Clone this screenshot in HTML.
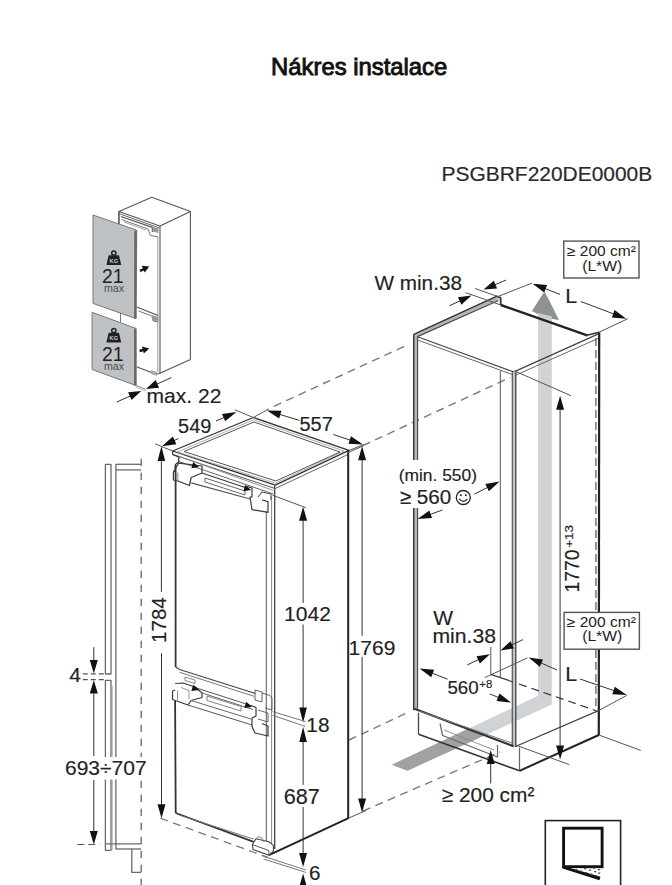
<!DOCTYPE html>
<html><head><meta charset="utf-8"><style>
html,body{margin:0;padding:0;background:#fff;}
body{width:672px;height:885px;overflow:hidden;}
svg{display:block;font-family:"Liberation Sans",sans-serif;}
</style></head><body>
<svg width="672" height="885" viewBox="0 0 672 885">
<text x="271.09" y="74.80" font-size="23.4" fill="#111" stroke="#111" stroke-width="0.9"  textLength="176.20" lengthAdjust="spacingAndGlyphs" >Nákres instalace</text>
<text x="441.52" y="180.50" font-size="21" fill="#2a2a2a" stroke="#2a2a2a" stroke-width="0.2"  textLength="210.74" lengthAdjust="spacingAndGlyphs" >PSGBRF220DE0000B</text>
<polygon points="118.90,211.50 151.80,197.30 190.40,211.50 160.00,226.00" fill="none" stroke="#555" stroke-width="1.1" stroke-linejoin="round" />
<line x1="190.40" y1="211.50" x2="190.40" y2="359.60" stroke="#555" stroke-width="1.1" />
<line x1="160.00" y1="226.00" x2="160.00" y2="373.90" stroke="#555" stroke-width="1.1" />
<line x1="157.80" y1="237.00" x2="157.80" y2="372.00" stroke="#999" stroke-width="1.0" />
<line x1="158.20" y1="373.90" x2="190.40" y2="359.60" stroke="#555" stroke-width="1.1" />
<line x1="118.90" y1="211.50" x2="118.90" y2="224.00" stroke="#555" stroke-width="1.6" />
<polyline points="118.90,213.50 121.50,214.50 159.50,228.00" fill="none" stroke="#666" stroke-width="1.0" stroke-linejoin="round" />
<polyline points="121.00,216.50 152.40,227.30 152.40,232.00" fill="none" stroke="#555" stroke-width="1.3" stroke-linejoin="round" />
<polyline points="121.50,219.50 148.00,229.00 150.50,235.50 158.00,236.80" fill="none" stroke="#777" stroke-width="1.0" stroke-linejoin="round" />
<polyline points="124.00,222.00 146.00,230.00" fill="none" stroke="#999" stroke-width="0.9" stroke-linejoin="round" />
<polygon points="152.50,226.80 158.50,228.50 158.50,233.00 152.50,231.50" fill="#999"/>
<polyline points="136.50,307.00 158.20,315.50" fill="none" stroke="#555" stroke-width="1.2" stroke-linejoin="round" />
<polyline points="138.60,311.00 152.00,316.00 153.00,321.00 158.20,322.00" fill="none" stroke="#777" stroke-width="1.0" stroke-linejoin="round" />
<polygon points="152.00,315.00 158.50,317.00 158.50,322.00 152.00,320.00" fill="#999"/>
<line x1="120.50" y1="312.00" x2="120.50" y2="322.00" stroke="#777" stroke-width="1.0" />
<polyline points="137.00,367.00 152.90,373.00 158.20,374.00" fill="none" stroke="#555" stroke-width="1.2" stroke-linejoin="round" />
<polygon points="151.00,370.00 157.00,372.00 157.00,376.00 151.00,374.00" fill="#aaa"/>
<polygon points="93.00,215.00 136.80,230.20 135.90,318.60 93.00,303.40" fill="#bfc2c4" stroke="#777" stroke-width="1.0" stroke-linejoin="round" />
<line x1="135.50" y1="230.50" x2="135.30" y2="318.40" stroke="#666" stroke-width="2.4" />
<polygon points="92.10,312.30 135.90,328.40 135.90,385.50 92.10,369.50" fill="#bfc2c4" stroke="#777" stroke-width="1.0" stroke-linejoin="round" />
<line x1="135.30" y1="328.60" x2="135.30" y2="385.30" stroke="#666" stroke-width="2.4" />
<circle cx="113.8" cy="253.10000000000002" r="2.1" fill="none" stroke="#222" stroke-width="1.5"/>
<polygon points="108.6,255.3 119.0,255.3 121.2,265.0 106.39999999999999,265.0" fill="#222"/>
<text x="113.8" y="262.8" font-size="5.6" font-weight="bold" fill="#c8c8c8" text-anchor="middle">KG</text>
<text x="101.93" y="283.30" font-size="19.5" fill="#222"   textLength="21.48" lengthAdjust="spacingAndGlyphs" >21</text>
<text x="103.96" y="291.80" font-size="10.7" fill="#4a4a4a"   textLength="20.04" lengthAdjust="spacingAndGlyphs" >max</text>
<circle cx="113.8" cy="330.6" r="2.1" fill="none" stroke="#222" stroke-width="1.5"/>
<polygon points="108.6,332.8 119.0,332.8 121.2,342.5 106.39999999999999,342.5" fill="#222"/>
<text x="113.8" y="340.3" font-size="5.6" font-weight="bold" fill="#c8c8c8" text-anchor="middle">KG</text>
<text x="101.93" y="361.00" font-size="19.5" fill="#222"   textLength="21.48" lengthAdjust="spacingAndGlyphs" >21</text>
<text x="103.96" y="369.60" font-size="10.7" fill="#4a4a4a"   textLength="20.04" lengthAdjust="spacingAndGlyphs" >max</text>
<polygon points="149.20,266.60 144.66,272.48 141.81,265.87" fill="#111"/>
<line x1="140.00" y1="270.80" x2="144.50" y2="268.90" stroke="#111" stroke-width="2.4" />
<polygon points="149.20,348.40 143.82,353.52 142.00,346.56" fill="#111"/>
<line x1="139.60" y1="351.00" x2="144.50" y2="349.60" stroke="#111" stroke-width="2.4" />
<line x1="135.50" y1="385.30" x2="145.90" y2="389.50" stroke="#888" stroke-width="1.0" />
<line x1="135.50" y1="387.00" x2="145.90" y2="391.00" stroke="#aaa" stroke-width="0.8" />
<line x1="116.80" y1="402.00" x2="134.41" y2="394.08" stroke="#333" stroke-width="1.0" />
<polygon points="141.25,391.00 131.57,399.96 128.13,392.30" fill="#111"/>
<line x1="171.50" y1="377.50" x2="152.84" y2="385.92" stroke="#333" stroke-width="1.0" />
<polygon points="146.00,389.00 155.67,380.03 159.12,387.69" fill="#111"/>
<text x="146.53" y="403.40" font-size="21" fill="#222" stroke="#222" stroke-width="0.15"  textLength="74.86" lengthAdjust="spacingAndGlyphs" >max. 22</text>
<line x1="141.20" y1="458.70" x2="141.20" y2="885.00" stroke="#666" stroke-width="1.3" stroke-dasharray="7.4 6.6"/>
<line x1="115.90" y1="464.30" x2="141.20" y2="464.30" stroke="#6a6a6a" stroke-width="1.3" />
<line x1="115.90" y1="469.90" x2="141.20" y2="469.90" stroke="#6a6a6a" stroke-width="1.3" />
<line x1="115.90" y1="464.30" x2="115.90" y2="849.00" stroke="#6a6a6a" stroke-width="1.3" />
<line x1="115.50" y1="849.00" x2="141.20" y2="849.00" stroke="#6a6a6a" stroke-width="1.3" />
<line x1="105.20" y1="843.90" x2="141.20" y2="843.90" stroke="#6a6a6a" stroke-width="1.2" />
<polyline points="131.80,849.00 131.80,872.40 141.20,872.40" fill="none" stroke="#6a6a6a" stroke-width="1.3" stroke-linejoin="round" />
<polygon points="105.40,464.30 111.00,464.30 111.00,674.00 105.40,674.00" fill="none" stroke="#6a6a6a" stroke-width="1.3" stroke-linejoin="round" />
<polygon points="105.40,680.30 111.00,680.30 111.00,850.30 105.40,850.30" fill="none" stroke="#6a6a6a" stroke-width="1.3" stroke-linejoin="round" />
<line x1="112.20" y1="686.00" x2="112.20" y2="850.00" stroke="#999" stroke-width="0.8" />
<line x1="82.80" y1="673.90" x2="105.00" y2="673.90" stroke="#555" stroke-width="1.1" stroke-dasharray="5 3"/>
<line x1="82.80" y1="679.60" x2="105.00" y2="679.60" stroke="#555" stroke-width="1.1" stroke-dasharray="5 3"/>
<line x1="77.30" y1="844.50" x2="99.60" y2="844.50" stroke="#555" stroke-width="1.1" stroke-dasharray="7 4"/>
<line x1="93.80" y1="647.20" x2="93.80" y2="665.30" stroke="#333" stroke-width="1.0" />
<polygon points="93.80,673.40 89.80,659.90 97.80,659.90" fill="#111"/>
<line x1="93.80" y1="756.00" x2="93.80" y2="688.10" stroke="#333" stroke-width="1.0" />
<polygon points="93.80,680.00 97.80,693.50 89.80,693.50" fill="#111"/>
<line x1="93.80" y1="780.00" x2="93.80" y2="836.40" stroke="#333" stroke-width="1.0" />
<polygon points="93.80,844.50 89.80,831.00 97.80,831.00" fill="#111"/>
<rect x="64" y="757" width="84" height="22.5" fill="#fff" stroke="none" stroke-width="1"/>
<text x="69.28" y="682.00" font-size="21" fill="#222" stroke="#222" stroke-width="0.15"   >4</text>
<text x="64.95" y="775.40" font-size="21" fill="#222" stroke="#222" stroke-width="0.15"  textLength="81.71" lengthAdjust="spacingAndGlyphs" >693÷707</text>
<line x1="161.40" y1="591.80" x2="161.40" y2="455.02" stroke="#333" stroke-width="1.0" />
<polygon points="161.40,446.20 165.20,460.90 157.60,460.90" fill="#111"/>
<line x1="161.50" y1="653.20" x2="161.50" y2="809.80" stroke="#333" stroke-width="1.0" />
<polygon points="161.50,818.20 157.50,804.20 165.50,804.20" fill="#111"/>
<text x="-1.65" y="0" font-size="20.7" fill="#222" stroke="#222" stroke-width="0.15" textLength="45.85" lengthAdjust="spacingAndGlyphs" transform="translate(165.80,641.40) rotate(-90)">1784</text>
<polygon points="172.60,451.00 253.30,417.50 349.00,450.40 275.20,485.20" fill="none" stroke="#333" stroke-width="1.3" stroke-linejoin="round" />
<polygon points="177.50,452.00 253.60,419.80 344.00,451.00 275.50,483.20" fill="none" stroke="#999" stroke-width="0.8" stroke-linejoin="round" />
<polygon points="184.00,451.50 253.90,422.00 340.00,452.00 275.80,481.00" fill="none" stroke="#555" stroke-width="1.0" stroke-linejoin="round" />
<line x1="172.60" y1="451.00" x2="172.60" y2="454.50" stroke="#444" stroke-width="1.2" />
<line x1="172.60" y1="454.50" x2="275.00" y2="488.50" stroke="#555" stroke-width="1.0" />
<polyline points="172.60,454.50 178.80,456.90 178.80,461.80 175.50,464.50 175.30,470.70 173.40,472.00" fill="none" stroke="#333" stroke-width="1.3" stroke-linejoin="round" />
<line x1="178.40" y1="456.00" x2="273.40" y2="490.50" stroke="#888" stroke-width="0.9" />
<line x1="178.80" y1="461.50" x2="273.40" y2="494.00" stroke="#666" stroke-width="1.0" />
<line x1="275.20" y1="488.50" x2="349.00" y2="454.00" stroke="#666" stroke-width="1.0" />
<line x1="348.20" y1="450.40" x2="348.20" y2="818.20" stroke="#222" stroke-width="2.0" />
<line x1="274.70" y1="486.00" x2="274.70" y2="849.00" stroke="#444" stroke-width="1.3" />
<line x1="271.60" y1="496.00" x2="271.60" y2="846.00" stroke="#888" stroke-width="1.0" />
<line x1="266.30" y1="511.00" x2="266.30" y2="843.60" stroke="#666" stroke-width="1.1" />
<line x1="175.60" y1="465.00" x2="175.60" y2="667.00" stroke="#333" stroke-width="1.8" />
<line x1="175.10" y1="701.00" x2="175.70" y2="813.00" stroke="#333" stroke-width="1.8" />
<line x1="175.70" y1="813.00" x2="253.75" y2="841.80" stroke="#333" stroke-width="1.8" />
<line x1="179.00" y1="815.00" x2="253.75" y2="839.10" stroke="#777" stroke-width="1.0" />
<line x1="268.90" y1="855.20" x2="348.50" y2="818.20" stroke="#222" stroke-width="2.0" />
<polyline points="173.40,472.00 173.40,480.00 177.80,481.00 189.40,485.50 191.20,477.50 202.00,473.00 202.00,466.00 178.70,463.20 173.40,472.00" fill="none" stroke="#3a3a3a" stroke-width="1.2" stroke-linejoin="round" />
<line x1="177.80" y1="472.50" x2="177.80" y2="481.00" stroke="#777" stroke-width="0.9" />
<polyline points="202.00,473.00 246.60,488.00" fill="none" stroke="#3a3a3a" stroke-width="1.2" stroke-linejoin="round" />
<polyline points="191.20,482.90 250.00,499.00" fill="none" stroke="#555" stroke-width="1.1" stroke-linejoin="round" />
<polyline points="205.00,478.00 245.00,491.00 245.00,495.00 205.00,482.00 205.00,478.00" fill="none" stroke="#666" stroke-width="1.0" stroke-linejoin="round" />
<polyline points="246.60,486.40 252.00,488.00 252.00,497.00 250.00,497.00 252.00,509.60 268.00,512.30 268.00,501.60 262.00,500.00" fill="none" stroke="#3a3a3a" stroke-width="1.2" stroke-linejoin="round" />
<polyline points="258.00,497.00 262.00,492.00 271.00,494.00 271.00,500.00" fill="none" stroke="#555" stroke-width="1.1" stroke-linejoin="round" />
<polygon points="199.00,467.00 191.39,468.15 193.15,462.00" fill="#111"/>
<polygon points="251.00,490.00 243.39,491.15 245.15,485.00" fill="#111"/>
<polyline points="175.60,667.00 179.60,669.50 255.50,693.50" fill="none" stroke="#444" stroke-width="1.2" stroke-linejoin="round" />
<line x1="179.60" y1="672.30" x2="254.00" y2="696.30" stroke="#777" stroke-width="1.0" />
<polyline points="185.00,677.00 195.00,680.00 195.00,683.50 185.00,680.50 185.00,677.00" fill="none" stroke="#777" stroke-width="0.9" stroke-linejoin="round" />
<polyline points="175.10,683.50 183.00,683.00 195.00,687.00 202.00,693.00 202.00,697.50 191.00,700.50 188.00,705.00 172.50,699.50 172.50,691.00 175.10,690.00" fill="none" stroke="#3a3a3a" stroke-width="1.2" stroke-linejoin="round" />
<line x1="177.50" y1="690.50" x2="177.50" y2="700.00" stroke="#888" stroke-width="0.9" />
<polyline points="181.00,687.50 189.00,690.50 189.00,699.00" fill="none" stroke="#888" stroke-width="0.9" stroke-linejoin="round" />
<line x1="195.00" y1="687.50" x2="251.00" y2="705.50" stroke="#555" stroke-width="1.0" />
<line x1="202.00" y1="693.00" x2="253.00" y2="709.50" stroke="#666" stroke-width="1.0" />
<line x1="191.00" y1="700.50" x2="251.00" y2="719.00" stroke="#666" stroke-width="1.0" />
<line x1="188.00" y1="705.00" x2="252.00" y2="725.00" stroke="#555" stroke-width="1.0" />
<polyline points="207.00,696.00 241.00,706.50 241.00,711.00 207.00,700.50 207.00,696.00" fill="none" stroke="#777" stroke-width="0.9" stroke-linejoin="round" />
<polyline points="251.00,705.50 256.00,707.50 256.00,716.00 252.00,718.00 252.00,726.50 255.00,733.00 268.00,736.00 268.00,726.00 262.00,723.50" fill="none" stroke="#3a3a3a" stroke-width="1.2" stroke-linejoin="round" />
<polyline points="255.00,690.00 262.00,692.00 262.00,702.00 255.00,700.00 255.00,690.00" fill="none" stroke="#555" stroke-width="0.9" stroke-linejoin="round" />
<polyline points="262.00,693.00 270.00,695.50 272.00,698.00 272.00,710.00 265.00,708.00" fill="none" stroke="#555" stroke-width="0.9" stroke-linejoin="round" />
<polyline points="258.00,710.00 268.00,713.00 268.00,722.00 258.00,719.00" fill="none" stroke="#555" stroke-width="0.9" stroke-linejoin="round" />
<polygon points="199.00,690.00 191.36,690.97 193.27,684.86" fill="#111"/>
<polygon points="252.00,707.00 244.36,707.97 246.27,701.86" fill="#111"/>
<polyline points="252.40,844.50 252.90,849.40 268.90,855.20 273.40,851.20 273.40,845.40 268.90,841.80 256.00,838.70 252.40,844.50" fill="#fff" stroke="#444" stroke-width="1.1" stroke-linejoin="round" />
<line x1="252.90" y1="844.80" x2="268.90" y2="850.50" stroke="#555" stroke-width="1.0" />
<line x1="268.90" y1="850.50" x2="268.90" y2="855.00" stroke="#555" stroke-width="1.0" />
<polyline points="256.00,838.70 258.00,836.50 262.00,838.00 264.00,842.00" fill="none" stroke="#777" stroke-width="0.9" stroke-linejoin="round" />
<line x1="155.20" y1="443.90" x2="172.60" y2="451.00" stroke="#555" stroke-width="1.0" />
<line x1="234.80" y1="409.80" x2="253.30" y2="417.50" stroke="#555" stroke-width="1.0" />
<line x1="178.40" y1="438.60" x2="169.53" y2="442.69" stroke="#333" stroke-width="1.0" />
<polygon points="161.90,446.20 172.86,436.53 176.37,444.16" fill="#111"/>
<line x1="216.00" y1="421.00" x2="228.70" y2="415.46" stroke="#333" stroke-width="1.0" />
<polygon points="236.40,412.10 225.17,421.36 221.97,414.03" fill="#111"/>
<text x="178.10" y="432.80" font-size="20" fill="#222" stroke="#222" stroke-width="0.15"  textLength="33.37" lengthAdjust="spacingAndGlyphs" >549</text>
<line x1="253.30" y1="417.50" x2="268.75" y2="408.90" stroke="#555" stroke-width="1.0" />
<line x1="349.00" y1="450.40" x2="364.40" y2="444.40" stroke="#555" stroke-width="1.0" />
<line x1="299.40" y1="420.40" x2="274.94" y2="412.95" stroke="#333" stroke-width="1.0" />
<polygon points="266.90,410.50 281.46,410.75 279.13,418.41" fill="#111"/>
<line x1="333.30" y1="434.50" x2="355.03" y2="441.74" stroke="#333" stroke-width="1.0" />
<polygon points="363.00,444.40 348.45,443.77 350.98,436.18" fill="#111"/>
<text x="299.50" y="430.70" font-size="20" fill="#222" stroke="#222" stroke-width="0.15"  textLength="33.37" lengthAdjust="spacingAndGlyphs" >557</text>
<line x1="274.00" y1="406.30" x2="406.00" y2="345.60" stroke="#7a7a7a" stroke-width="1.4" stroke-dasharray="8 5.5"/>
<line x1="362.80" y1="445.60" x2="510.30" y2="377.40" stroke="#7a7a7a" stroke-width="1.4" stroke-dasharray="8 5.5"/>
<line x1="349.00" y1="740.00" x2="407.50" y2="712.60" stroke="#7a7a7a" stroke-width="1.4" stroke-dasharray="8 5.5"/>
<line x1="363.00" y1="811.00" x2="500.00" y2="752.00" stroke="#7a7a7a" stroke-width="1.4" stroke-dasharray="8 5.5"/>
<line x1="160.30" y1="818.20" x2="268.00" y2="857.50" stroke="#7a7a7a" stroke-width="1.4" stroke-dasharray="8 5.5"/>
<line x1="272.50" y1="495.20" x2="305.80" y2="507.70" stroke="#555" stroke-width="1.0" />
<line x1="303.10" y1="603.00" x2="303.10" y2="515.10" stroke="#333" stroke-width="1.0" />
<polygon points="303.10,506.70 307.10,520.70 299.10,520.70" fill="#111"/>
<text x="284.12" y="621.30" font-size="21" fill="#222" stroke="#222" stroke-width="0.15"  textLength="46.82" lengthAdjust="spacingAndGlyphs" >1042</text>
<line x1="303.10" y1="624.50" x2="303.10" y2="713.40" stroke="#333" stroke-width="1.0" />
<polygon points="303.10,722.40 299.30,707.40 306.90,707.40" fill="#111"/>
<line x1="272.50" y1="711.60" x2="305.40" y2="721.50" stroke="#777" stroke-width="1.0" />
<line x1="272.50" y1="715.30" x2="305.40" y2="726.40" stroke="#777" stroke-width="1.0" />
<text x="306.34" y="731.80" font-size="21" fill="#222" stroke="#222" stroke-width="0.15"  textLength="23.14" lengthAdjust="spacingAndGlyphs" >18</text>
<line x1="303.10" y1="784.90" x2="303.10" y2="735.90" stroke="#333" stroke-width="1.0" />
<polygon points="303.10,726.90 306.90,741.90 299.30,741.90" fill="#111"/>
<text x="283.72" y="803.70" font-size="21.5" fill="#222" stroke="#222" stroke-width="0.15"  textLength="36.13" lengthAdjust="spacingAndGlyphs" >687</text>
<line x1="303.10" y1="806.80" x2="303.10" y2="858.60" stroke="#333" stroke-width="1.0" />
<polygon points="303.10,867.00 299.10,853.00 307.10,853.00" fill="#111"/>
<line x1="263.60" y1="856.30" x2="305.80" y2="870.00" stroke="#777" stroke-width="1.0" />
<line x1="263.60" y1="859.00" x2="305.80" y2="872.40" stroke="#777" stroke-width="1.0" />
<line x1="303.10" y1="890.00" x2="303.10" y2="882.00" stroke="#333" stroke-width="1.0" />
<polygon points="303.10,873.60 307.10,887.60 299.10,887.60" fill="#111"/>
<text x="308.97" y="880.10" font-size="21" fill="#222" stroke="#222" stroke-width="0.15"  textLength="11.48" lengthAdjust="spacingAndGlyphs" >6</text>
<line x1="348.20" y1="452.50" x2="363.00" y2="446.00" stroke="#555" stroke-width="1.0" />
<line x1="348.50" y1="818.20" x2="366.00" y2="810.50" stroke="#555" stroke-width="1.0" />
<line x1="362.10" y1="635.80" x2="362.10" y2="454.65" stroke="#333" stroke-width="1.0" />
<polygon points="362.10,446.25 366.10,460.25 358.10,460.25" fill="#111"/>
<line x1="362.10" y1="656.80" x2="362.10" y2="804.10" stroke="#333" stroke-width="1.0" />
<polygon points="362.10,812.50 358.10,798.50 366.10,798.50" fill="#111"/>
<text x="348.62" y="655.00" font-size="21" fill="#222" stroke="#222" stroke-width="0.15"  textLength="46.82" lengthAdjust="spacingAndGlyphs" >1769</text>
<polygon points="538.10,320.00 551.80,320.00 551.80,704.60 407.50,770.70 391.90,764.70 538.10,695.70" fill="#d0d3d5"/>
<polygon points="391.90,764.70 466.70,729.40 484.30,735.50 407.50,770.70" fill="#9fa1a2"/>
<polygon points="544.50,291.40 532.00,311.00 538.00,314.00 538.00,322.00 551.70,322.00 551.70,318.80 558.80,320.00" fill="#c9cdcf"/>
<polygon points="544.50,291.40 532.00,311.00 538.00,314.00 538.00,313.00 551.70,316.30 551.70,318.80 558.80,320.00 550.00,302.00" fill="#8f9294"/>
<polygon points="413.70,334.30 497.50,295.50 498.50,300.00 417.60,337.50 417.60,710.00 413.70,710.00" fill="#b4b4b4"/>
<line x1="413.70" y1="334.30" x2="497.50" y2="295.80" stroke="#333" stroke-width="1.3" />
<line x1="417.60" y1="336.60" x2="498.50" y2="300.50" stroke="#444" stroke-width="1.1" />
<line x1="413.70" y1="334.30" x2="413.70" y2="710.20" stroke="#333" stroke-width="1.4" />
<line x1="417.60" y1="336.60" x2="417.60" y2="708.50" stroke="#444" stroke-width="1.1" />
<polyline points="497.50,296.50 500.60,297.80 500.80,305.00" fill="none" stroke="#333" stroke-width="1.8" stroke-linejoin="round" />
<line x1="500.80" y1="305.00" x2="587.20" y2="335.40" stroke="#222" stroke-width="2.4" />
<line x1="417.60" y1="336.70" x2="514.00" y2="372.00" stroke="#444" stroke-width="1.2" />
<line x1="417.60" y1="340.00" x2="512.30" y2="374.50" stroke="#666" stroke-width="1.0" />
<line x1="515.00" y1="371.30" x2="599.00" y2="333.70" stroke="#444" stroke-width="1.3" />
<line x1="515.00" y1="375.50" x2="599.00" y2="338.00" stroke="#666" stroke-width="1.0" />
<line x1="586.00" y1="335.50" x2="599.20" y2="332.20" stroke="#333" stroke-width="1.5" />
<rect x="512.5" y="372" width="3.2" height="375" fill="#c4c4c4" stroke="none" stroke-width="1"/>
<line x1="512.30" y1="372.00" x2="512.30" y2="747.00" stroke="#555" stroke-width="1.2" />
<line x1="515.80" y1="371.50" x2="515.80" y2="747.00" stroke="#444" stroke-width="1.3" />
<line x1="500.30" y1="370.70" x2="500.30" y2="677.40" stroke="#555" stroke-width="1.0" />
<line x1="599.20" y1="332.20" x2="598.80" y2="735.00" stroke="#222" stroke-width="2.2" />
<line x1="595.90" y1="338.00" x2="595.90" y2="710.70" stroke="#555" stroke-width="1.2" stroke-dasharray="8 4"/>
<line x1="414.50" y1="708.75" x2="513.60" y2="746.25" stroke="#333" stroke-width="2.0" />
<line x1="419.00" y1="711.00" x2="512.00" y2="743.00" stroke="#777" stroke-width="1.0" />
<line x1="515.40" y1="746.50" x2="598.50" y2="710.70" stroke="#444" stroke-width="1.3" />
<line x1="418.50" y1="712.80" x2="418.50" y2="734.20" stroke="#444" stroke-width="1.3" />
<line x1="418.50" y1="734.20" x2="519.50" y2="770.80" stroke="#333" stroke-width="1.6" />
<line x1="519.50" y1="747.60" x2="519.50" y2="770.80" stroke="#666" stroke-width="1.2" />
<line x1="519.50" y1="770.80" x2="598.80" y2="735.00" stroke="#222" stroke-width="2.0" />
<line x1="598.80" y1="735.00" x2="640.80" y2="750.40" stroke="#555" stroke-width="1.0" />
<polyline points="440.00,723.50 442.60,735.50 497.50,757.00 497.50,745.00" fill="none" stroke="#666" stroke-width="1.2" stroke-linejoin="round" />
<line x1="444.00" y1="730.00" x2="494.00" y2="750.00" stroke="#888" stroke-width="0.9" />
<line x1="465.60" y1="292.60" x2="500.80" y2="305.00" stroke="#555" stroke-width="1.0" />
<line x1="475.10" y1="288.50" x2="500.50" y2="297.50" stroke="#555" stroke-width="1.0" />
<line x1="449.50" y1="305.70" x2="464.41" y2="298.85" stroke="#333" stroke-width="1.0" />
<polygon points="471.50,295.60 461.44,304.84 457.93,297.21" fill="#111"/>
<line x1="506.00" y1="280.10" x2="490.69" y2="286.57" stroke="#333" stroke-width="1.0" />
<polygon points="483.50,289.60 493.84,280.67 497.11,288.41" fill="#111"/>
<text x="374.40" y="290.30" font-size="20.8" fill="#222" stroke="#222" stroke-width="0.15"  textLength="87.59" lengthAdjust="spacingAndGlyphs" >W min.38</text>
<line x1="498.00" y1="296.50" x2="532.00" y2="283.10" stroke="#555" stroke-width="1.0" />
<line x1="599.20" y1="332.20" x2="627.80" y2="318.70" stroke="#555" stroke-width="1.0" />
<line x1="560.00" y1="294.40" x2="540.42" y2="286.76" stroke="#333" stroke-width="1.0" />
<polygon points="532.60,283.70 547.10,285.07 544.19,292.52" fill="#111"/>
<line x1="580.80" y1="301.50" x2="618.44" y2="315.73" stroke="#333" stroke-width="1.0" />
<polygon points="626.30,318.70 611.79,317.49 614.62,310.01" fill="#111"/>
<text x="565.29" y="303.30" font-size="21" fill="#222" stroke="#222" stroke-width="0.15"  textLength="11.88" lengthAdjust="spacingAndGlyphs" >L</text>
<rect x="563.75" y="241.1" width="75.25" height="36.9" fill="#fff" stroke="#555" stroke-width="1.4"/>
<text x="567.03" y="256.10" font-size="14" fill="#222"   textLength="68.86" lengthAdjust="spacingAndGlyphs" >≥ 200 cm²</text>
<text x="582.16" y="270.50" font-size="14" fill="#222"   textLength="40.06" lengthAdjust="spacingAndGlyphs" >(L*W)</text>
<line x1="513.90" y1="370.70" x2="571.00" y2="395.70" stroke="#555" stroke-width="1.0" />
<line x1="560.10" y1="500.00" x2="560.10" y2="404.10" stroke="#333" stroke-width="1.0" />
<polygon points="560.10,395.70 564.10,409.70 556.10,409.70" fill="#111"/>
<line x1="560.10" y1="500.00" x2="560.10" y2="751.10" stroke="#333" stroke-width="1.0" />
<polygon points="560.10,759.50 556.10,745.50 564.10,745.50" fill="#111"/>
<line x1="515.40" y1="745.00" x2="569.10" y2="764.50" stroke="#555" stroke-width="1.0" />
<text x="-1.55" y="0" font-size="20.5" fill="#222" stroke="#222" stroke-width="0.15" textLength="43.12" lengthAdjust="spacingAndGlyphs" transform="translate(579.15,591.00) rotate(-90)">1770</text>
<text x="-0.68" y="0" font-size="11" fill="#222" stroke="#222" stroke-width="0.15" textLength="22.90" lengthAdjust="spacingAndGlyphs" transform="translate(573.40,547.20) rotate(-90)">+13</text>
<rect x="397" y="460" width="80" height="48" fill="#fff" stroke="none" stroke-width="1"/>
<text x="398.65" y="481.40" font-size="17.4" fill="#222" stroke="#222" stroke-width="0.15"  textLength="78.41" lengthAdjust="spacingAndGlyphs" >(min. 550)</text>
<text x="399.78" y="503.50" font-size="20.7" fill="#222" stroke="#222" stroke-width="0.15"  textLength="51.54" lengthAdjust="spacingAndGlyphs" >≥ 560</text>
<circle cx="463.3" cy="497.5" r="7" fill="none" stroke="#222" stroke-width="1.3"/>
<circle cx="460.8" cy="495.3" r="1" fill="#222"/><circle cx="465.8" cy="495.3" r="1" fill="#222"/>
<path d="M459.2,498.8 Q463.3,503.8 467.4,498.8" fill="none" stroke="#222" stroke-width="1.2"/>
<line x1="474.30" y1="494.10" x2="492.09" y2="485.17" stroke="#333" stroke-width="1.0" />
<polygon points="499.60,481.40 488.88,491.26 485.29,484.11" fill="#111"/>
<line x1="442.50" y1="510.00" x2="425.40" y2="516.15" stroke="#333" stroke-width="1.0" />
<polygon points="417.50,519.00 429.32,510.49 432.03,518.02" fill="#111"/>
<rect x="564.1" y="612.4" width="75.3" height="36.8" fill="#fff" stroke="#555" stroke-width="1.4"/>
<text x="566.83" y="627.30" font-size="14" fill="#222"   textLength="69.06" lengthAdjust="spacingAndGlyphs" >≥ 200 cm²</text>
<text x="582.16" y="641.30" font-size="14" fill="#222"   textLength="40.06" lengthAdjust="spacingAndGlyphs" >(L*W)</text>
<text x="433.30" y="625.00" font-size="21" fill="#222" stroke="#222" stroke-width="0.15"  textLength="19.78" lengthAdjust="spacingAndGlyphs" >W</text>
<text x="432.42" y="642.90" font-size="21" fill="#222" stroke="#222" stroke-width="0.15"  textLength="63.66" lengthAdjust="spacingAndGlyphs" >min.38</text>
<line x1="490.80" y1="647.00" x2="490.80" y2="674.40" stroke="#555" stroke-width="1.0" />
<line x1="467.30" y1="664.90" x2="482.85" y2="657.54" stroke="#333" stroke-width="1.0" />
<polygon points="489.90,654.20 479.86,663.38 476.44,656.15" fill="#111"/>
<line x1="523.00" y1="639.60" x2="507.53" y2="647.02" stroke="#333" stroke-width="1.0" />
<polygon points="500.50,650.40 510.49,641.17 513.95,648.38" fill="#111"/>
<line x1="447.60" y1="679.20" x2="427.44" y2="671.42" stroke="#333" stroke-width="1.0" />
<polygon points="419.60,668.40 434.10,669.71 431.22,677.17" fill="#111"/>
<line x1="489.90" y1="694.00" x2="503.21" y2="699.36" stroke="#333" stroke-width="1.0" />
<polygon points="511.00,702.50 496.52,700.98 499.51,693.56" fill="#111"/>
<text x="447.45" y="694.00" font-size="19" fill="#222" stroke="#222" stroke-width="0.15"  textLength="31.27" lengthAdjust="spacingAndGlyphs" >560</text>
<text x="479.23" y="688.00" font-size="11.5" fill="#222" stroke="#222" stroke-width="0.1"  textLength="13.05" lengthAdjust="spacingAndGlyphs" >+8</text>
<line x1="484.80" y1="677.60" x2="527.40" y2="657.90" stroke="#555" stroke-width="1.0" />
<line x1="557.00" y1="670.00" x2="536.29" y2="660.88" stroke="#333" stroke-width="1.0" />
<polygon points="528.60,657.50 543.03,659.48 539.80,666.80" fill="#111"/>
<line x1="580.00" y1="679.00" x2="618.85" y2="692.28" stroke="#333" stroke-width="1.0" />
<polygon points="626.80,695.00 612.26,694.26 614.85,686.69" fill="#111"/>
<line x1="598.50" y1="710.70" x2="626.70" y2="695.40" stroke="#555" stroke-width="1.0" />
<text x="565.29" y="681.30" font-size="21" fill="#222" stroke="#222" stroke-width="0.15"  textLength="11.88" lengthAdjust="spacingAndGlyphs" >L</text>
<line x1="490.80" y1="674.40" x2="513.00" y2="682.00" stroke="#333" stroke-width="1.2" />
<line x1="519.00" y1="684.00" x2="596.00" y2="710.70" stroke="#333" stroke-width="1.2" stroke-dasharray="8 5"/>
<line x1="490.70" y1="783.50" x2="490.70" y2="758.30" stroke="#333" stroke-width="1.0" />
<polygon points="490.70,749.90 494.70,763.90 486.70,763.90" fill="#111"/>
<text x="441.77" y="801.50" font-size="20.9" fill="#222" stroke="#222" stroke-width="0.15"  textLength="92.62" lengthAdjust="spacingAndGlyphs" >≥ 200 cm²</text>
<rect x="545.3" y="820.6" width="75.3" height="80" fill="#fff" stroke="#222" stroke-width="1.6"/>
<rect x="563.6" y="828.2" width="38.5" height="38.5" fill="none" stroke="#111" stroke-width="2.9"/>
<polygon points="562.60,866.00 565.00,866.50 600.50,876.80 599.40,880.30 562.60,868.50" fill="#111"/>
<rect x="575" y="869" width="2.2" height="1.3" fill="#555"/>
<rect x="580" y="870.5" width="2.2" height="1.3" fill="#555"/>
<rect x="585" y="872" width="2.2" height="1.3" fill="#555"/>
<rect x="590" y="873.5" width="2.2" height="1.3" fill="#555"/>
<rect x="595" y="875" width="2.2" height="1.3" fill="#555"/>
<rect x="584" y="868" width="2.2" height="1.3" fill="#555"/>
<rect x="589" y="869.5" width="2.2" height="1.3" fill="#555"/>
<rect x="594" y="871" width="2.2" height="1.3" fill="#555"/>
<rect x="598" y="872.5" width="2.2" height="1.3" fill="#555"/>
<rect x="593" y="867.5" width="2.2" height="1.3" fill="#555"/>
<rect x="598" y="869" width="2.2" height="1.3" fill="#555"/>
</svg>
</body></html>
